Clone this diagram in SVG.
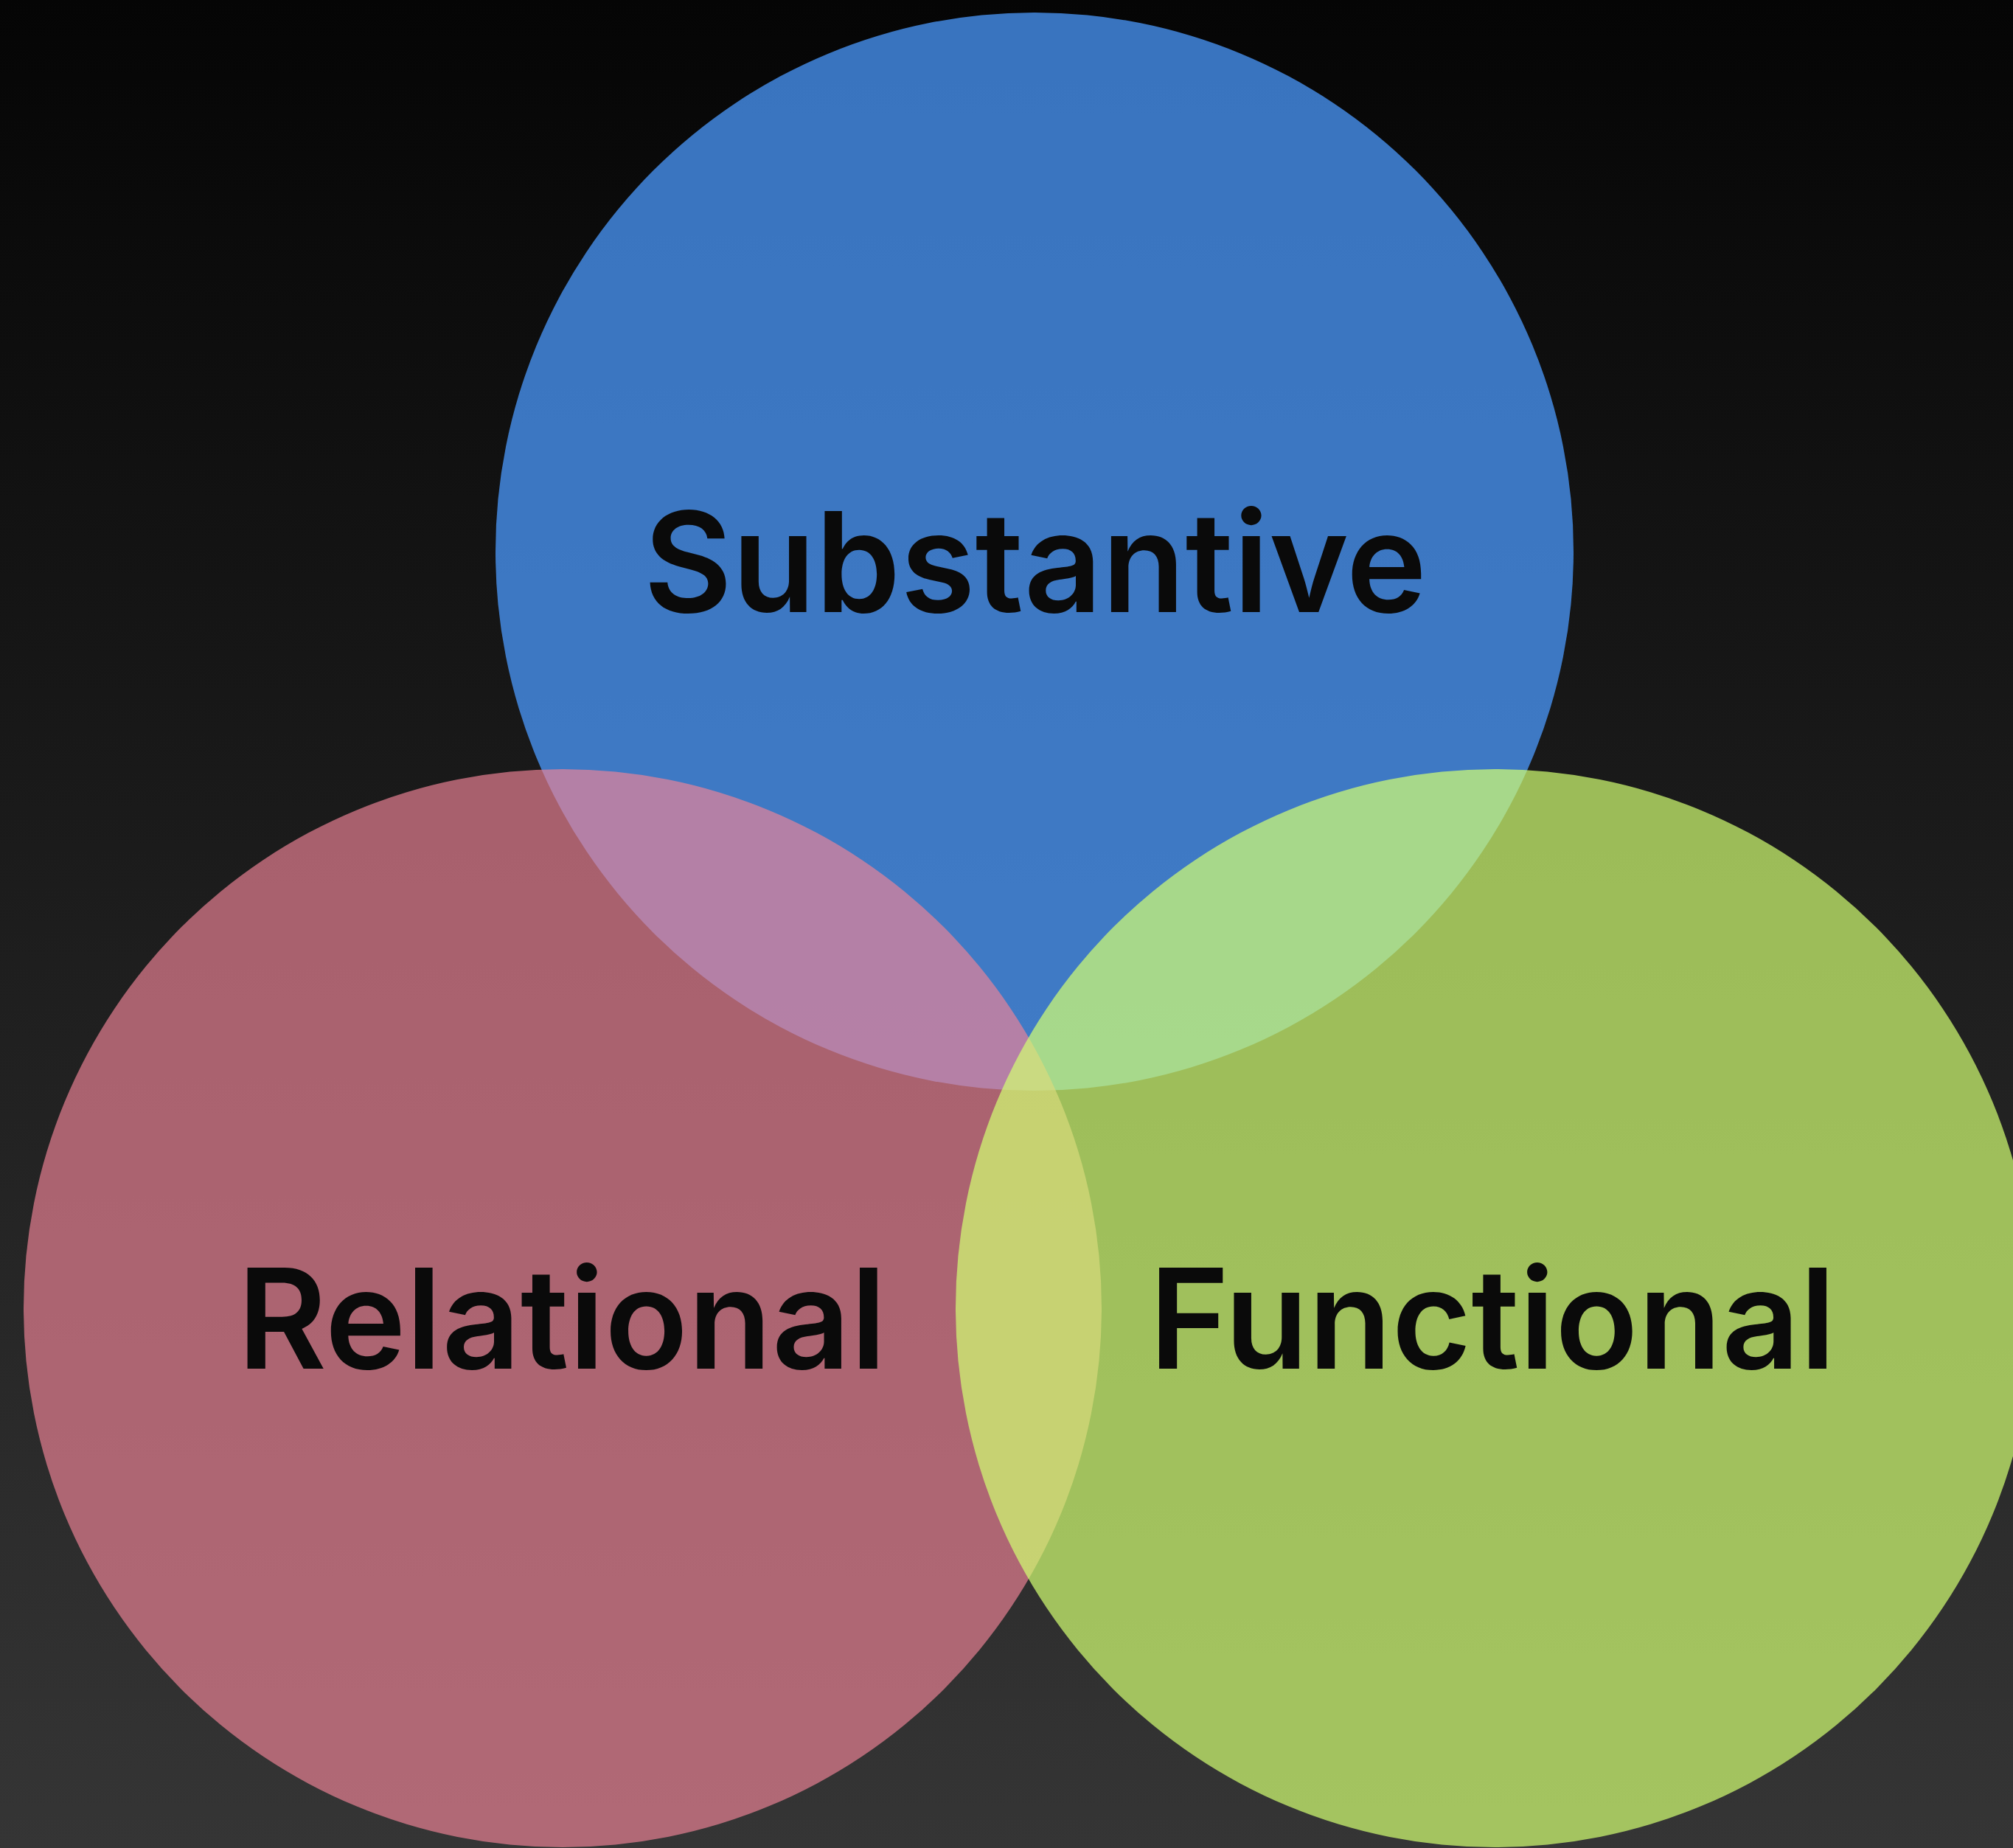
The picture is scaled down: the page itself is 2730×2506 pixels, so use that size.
<svg xmlns="http://www.w3.org/2000/svg" width="2730" height="2506" viewBox="0 0 2730 2506">
  <defs>
    <linearGradient id="bg" x1="0" y1="0" x2="0" y2="1">
      <stop offset="0" stop-color="#050505"/>
      <stop offset="1" stop-color="#353535"/>
    </linearGradient>
  </defs>
  <style>
    .label { font-family: Inter, "Liberation Sans", sans-serif; font-weight: 600; font-size: 188px; fill: #0a0a0a; text-anchor: middle; }
  </style>
  <rect x="0" y="0" width="2730" height="2506" fill="url(#bg)"/>
  <g id="connectors"/>
  <g id="node-substantive">
    <circle cx="1403" cy="748" r="731" fill="#4b9afe" fill-opacity="0.75"/>
  </g>
  <g id="node-relational">
    <circle cx="763" cy="1774" r="731" fill="#ee8397" fill-opacity="0.67"/>
  </g>
  <g id="node-functional">
    <circle cx="2027" cy="1774" r="731" fill="#d2ff72" fill-opacity="0.71"/>
  </g>
  <g id="labels">
    <text class="label" x="1404" y="830" textLength="1062" lengthAdjust="spacingAndGlyphs">Substantive</text>
    <text class="label" x="762" y="1856" textLength="880" lengthAdjust="spacingAndGlyphs">Relational</text>
    <text class="label" x="2024" y="1856" textLength="931" lengthAdjust="spacingAndGlyphs">Functional</text>
  </g>
</svg>
